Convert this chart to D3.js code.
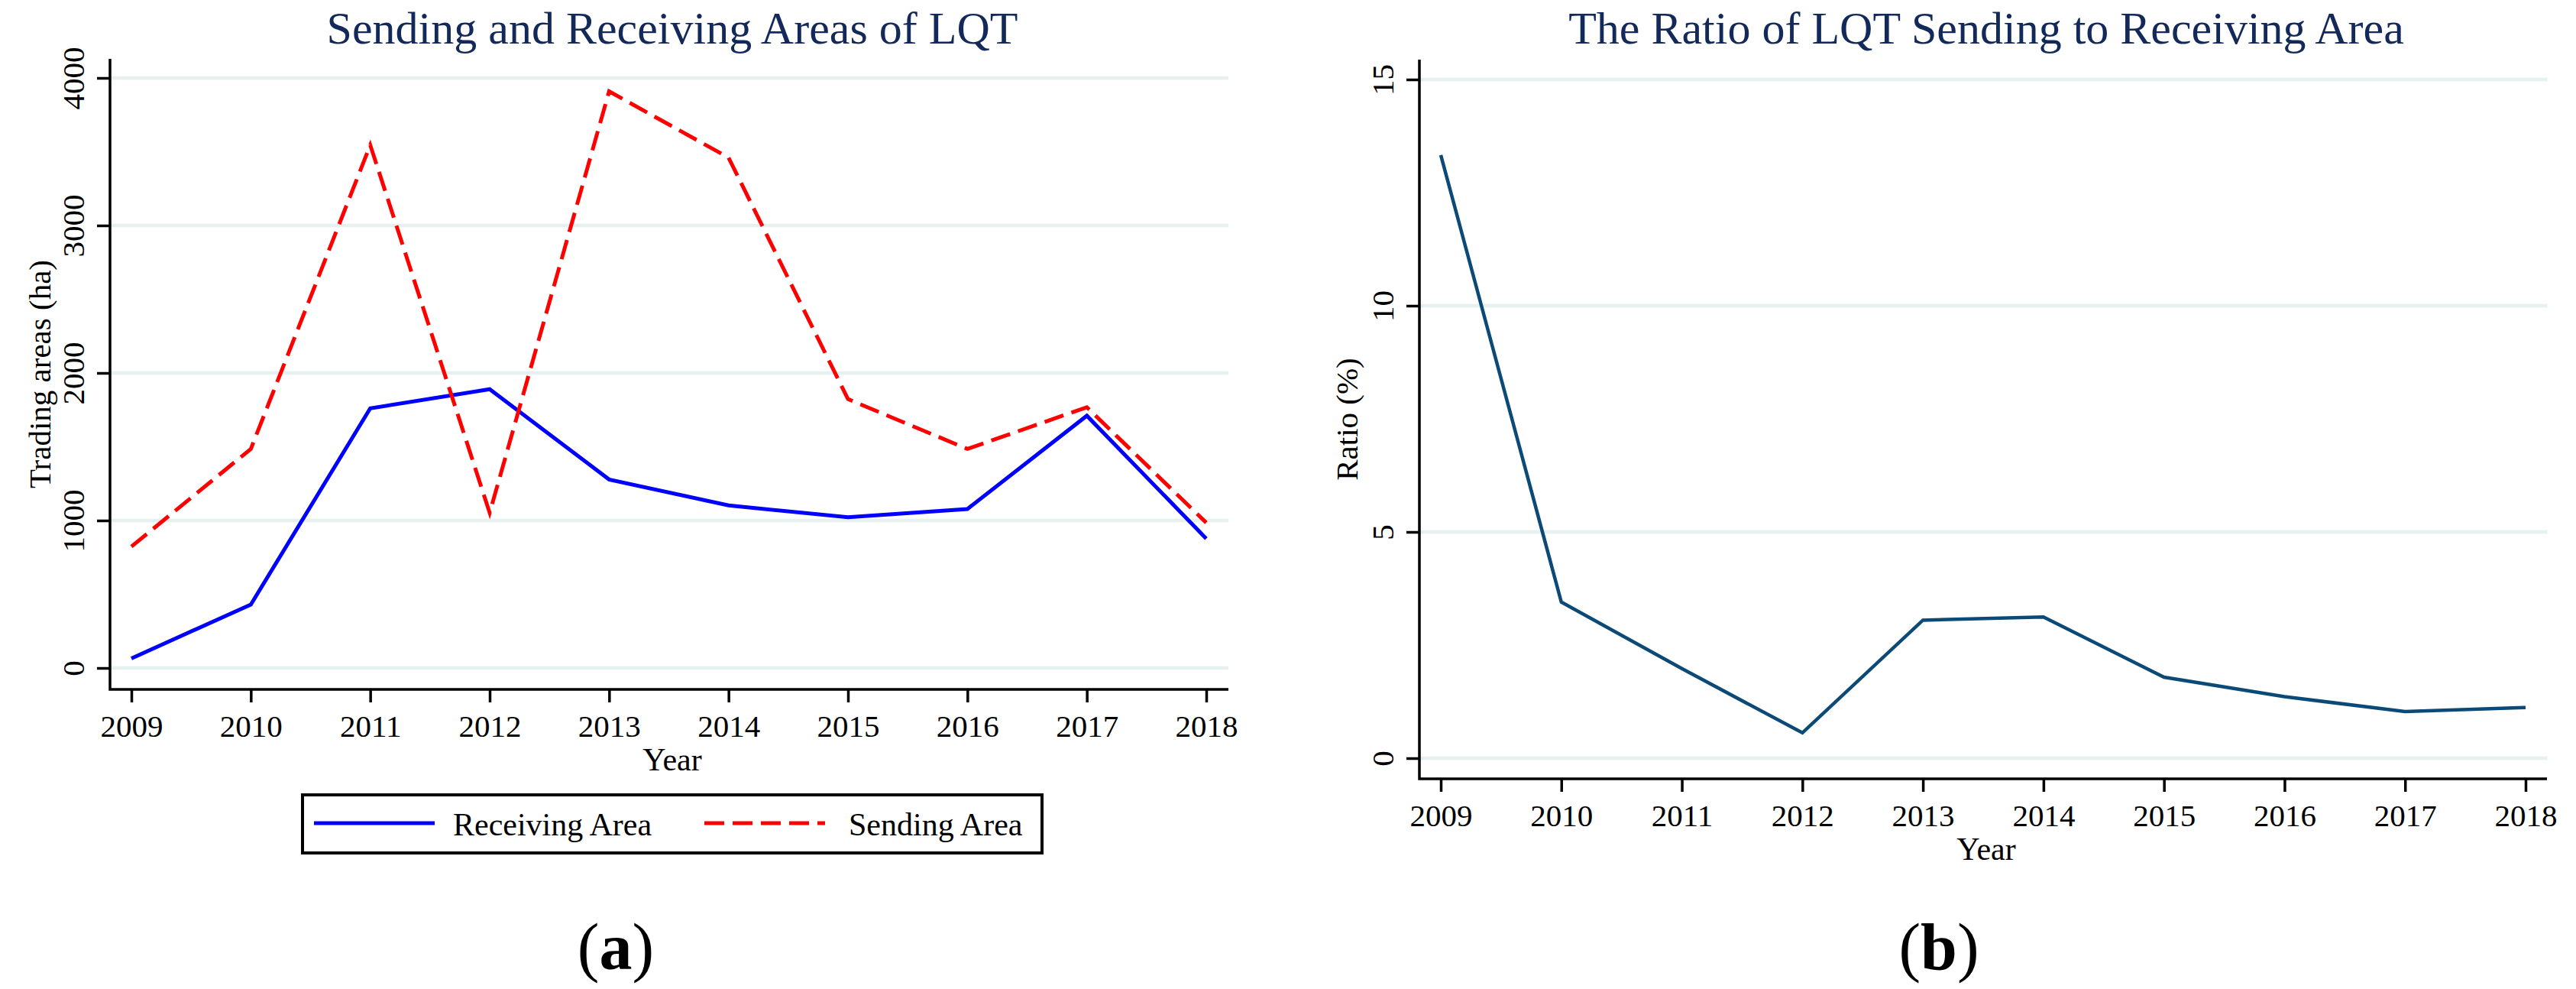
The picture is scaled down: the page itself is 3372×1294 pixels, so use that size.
<!DOCTYPE html>
<html>
<head>
<meta charset="utf-8">
<script src="https://cdn.jsdelivr.net/npm/d3@7"></script>
<style>
  body { margin: 0; background: #fff; }
  text { font-family: "Liberation Serif", "Times New Roman", serif; }
</style>
</head>
<body>
<div id="chart"></div>
<script>
// data
var years = [2009, 2010, 2011, 2012, 2013, 2014, 2015, 2016, 2017, 2018];
var receivingArea = [65, 430, 1760, 1890, 1278, 1102, 1022, 1078, 1710, 877];
var sendingArea = [823, 1485, 3545, 1052, 3909, 3460, 1823, 1485, 1768, 985];
var ratio = [13.33, 3.45, 1.98, 0.56, 3.05, 3.12, 1.79, 1.36, 1.03, 1.12];
var areaTicks = [0, 1000, 2000, 3000, 4000];
var ratioTicks = [0, 5, 10, 15];

var width = 3372, height = 1294;
var gridColor = '#e6f0f0';
var titleColor = '#13295a';

var svg = d3.select('#chart').append('svg')
  .attr('width', width)
  .attr('height', height);

svg.append('rect').attr('width', width).attr('height', height).attr('fill', '#fff');

function Panel(opts) {
  var g = svg.append('g');
  var x = d3.scaleLinear().domain([2009, 2018]).range(opts.xRange);
  var y = d3.scaleLinear().domain(opts.yDomain).range(opts.yRange);

  // gridlines
  g.selectAll('.grid')
    .data(opts.yTicks)
    .enter()
    .append('line')
    .attr('x1', opts.frame.left)
    .attr('x2', opts.frame.right)
    .attr('y1', function(d) { return y(d); })
    .attr('y2', function(d) { return y(d); })
    .attr('stroke', gridColor)
    .attr('stroke-width', 4.5);

  // y axis
  var yAxis = g.append('g')
    .attr('transform', 'translate(' + opts.frame.left + ',0)')
    .call(d3.axisLeft(y).tickValues(opts.yTicks).tickFormat(d3.format('d')).tickSize(17).tickSizeOuter(0));
  yAxis.select('.domain').remove();
  yAxis.selectAll('line').attr('stroke', '#000').attr('stroke-width', 3.5);
  yAxis.selectAll('text')
    .attr('x', null).attr('dy', null)
    .attr('transform', 'translate(-34,0) rotate(-90)')
    .attr('text-anchor', 'middle')
    .attr('fill', '#000')
    .style('font-size', '41px')
    .style('font-family', '"Liberation Serif", serif');

  // x axis
  var xAxis = g.append('g')
    .attr('transform', 'translate(0,' + opts.frame.bottom + ')')
    .call(d3.axisBottom(x).tickValues(years).tickFormat(d3.format('d')).tickSize(17).tickSizeOuter(0));
  xAxis.select('.domain').remove();
  xAxis.selectAll('line').attr('stroke', '#000').attr('stroke-width', 3.5);
  xAxis.selectAll('text')
    .attr('y', 62).attr('dy', null)
    .attr('fill', '#000')
    .style('font-size', '41px')
    .style('font-family', '"Liberation Serif", serif');

  // frame lines (left + bottom)
  g.append('path')
    .attr('d', 'M' + opts.frame.left + ',' + opts.frame.top +
               'V' + opts.frame.bottom + 'H' + opts.frame.right)
    .attr('fill', 'none')
    .attr('stroke', '#000')
    .attr('stroke-width', 3.5);

  // titles
  g.append('text')
    .attr('x', opts.titleX).attr('y', 57)
    .attr('text-anchor', 'middle')
    .attr('fill', titleColor)
    .style('font-size', '60px')
    .text(opts.title);

  g.append('text')
    .attr('x', opts.titleX).attr('y', opts.frame.bottom + 106)
    .attr('text-anchor', 'middle')
    .style('font-size', '42px')
    .text('Year');

  g.append('text')
    .attr('transform', 'translate(' + opts.yLabelX + ',' + ((opts.frame.top + opts.frame.bottom) / 2) + ') rotate(-90)')
    .attr('text-anchor', 'middle')
    .style('font-size', '41px')
    .text(opts.yLabel);

  // series
  var line = d3.line()
    .x(function(d) { return x(d.year); })
    .y(function(d) { return y(d.value); })
    .curve(d3.curveLinear);

  opts.series.forEach(function(s) {
    var pts = years.map(function(yr, i) { return { year: yr, value: s.values[i] }; });
    g.append('path')
      .attr('d', line(pts))
      .attr('fill', 'none')
      .attr('stroke', s.color)
      .attr('stroke-width', s.width)
      .attr('stroke-dasharray', s.dash || null)
      .attr('stroke-linejoin', 'miter');
  });

  // panel letter
  g.append('text')
    .attr('x', opts.letterX).attr('y', 1268)
    .attr('text-anchor', 'middle')
    .style('font-size', '86px')
    .html('(<tspan font-weight="bold">' + opts.letter + '</tspan>)');

  this.x = x;
  this.y = y;
  this.g = g;
}

var seriesA = [
  { name: 'Receiving Area', values: receivingArea, color: '#0000ff', width: 5 },
  { name: 'Sending Area', values: sendingArea, color: '#ff0000', width: 5, dash: '26,11' }
];

var panelA = new Panel({
  xRange: [172, 1579],
  yDomain: [0, 4000],
  yRange: [874, 102],
  yTicks: areaTicks,
  frame: { left: 144, right: 1608, top: 77, bottom: 902 },
  title: 'Sending and Receiving Areas of LQT',
  titleX: 880,
  yLabel: 'Trading areas (ha)',
  yLabelX: 66,
  series: seriesA,
  letter: 'a',
  letterX: 806
});

var panelB = new Panel({
  xRange: [1886, 3306],
  yDomain: [0, 15],
  yRange: [992, 104],
  yTicks: ratioTicks,
  frame: { left: 1858, right: 3334, top: 78, bottom: 1019 },
  title: 'The Ratio of LQT Sending to Receiving Area',
  titleX: 2600,
  yLabel: 'Ratio (%)',
  yLabelX: 1777,
  series: [{ name: 'Ratio', values: ratio, color: '#0b4a76', width: 4.5 }],
  letter: 'b',
  letterX: 2538
});

// legend for panel (a)
var legend = svg.append('g');
legend.append('rect')
  .attr('x', 396).attr('y', 1040)
  .attr('width', 968).attr('height', 76)
  .attr('fill', '#fff')
  .attr('stroke', '#000')
  .attr('stroke-width', 4);

var legendItems = legend.selectAll('.item')
  .data(seriesA)
  .enter()
  .append('g')
  .attr('class', 'item')
  .attr('transform', function(d, i) { return 'translate(' + [411, 922][i] + ',1077)'; });

legendItems.append('line')
  .attr('x1', 0).attr('x2', 158)
  .attr('stroke', function(d) { return d.color; })
  .attr('stroke-width', 5)
  .attr('stroke-dasharray', function(d) { return d.dash || null; });

legendItems.append('text')
  .attr('x', function(d, i) { return i == 0 ? 182 : 189; })
  .attr('y', 16)
  .style('font-size', '42px')
  .text(function(d) { return d.name; });
</script>
</body>
</html>
